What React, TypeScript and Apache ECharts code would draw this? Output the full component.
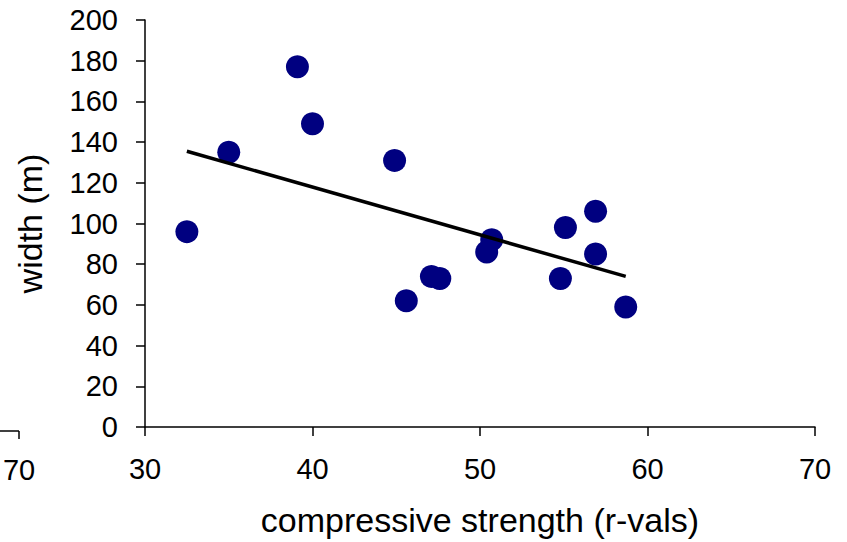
import React, { useEffect, useRef } from "react";
import * as echarts from "echarts";

const xValues = [32.5, 35.0, 39.1, 40.0, 44.9, 45.6, 47.1, 47.6, 50.4, 50.7, 54.8, 55.1, 56.9, 56.9, 58.7];
const yValues = [96, 135, 177, 149, 131, 62, 74, 73, 86, 92, 73, 98, 106, 85, 59];
const trendX = [32.5, 58.7];
const trendY = [135.5, 74];
const xTicks = [30, 40, 50, 60, 70];
const yTicks = [0, 20, 40, 60, 80, 100, 120, 140, 160, 180, 200];

const FONT = "'Liberation Sans', Arial, sans-serif";

export default function App() {
  const ref = useRef<HTMLDivElement>(null);
  useEffect(() => {
    if (!ref.current) return;
    const chart = echarts.init(ref.current, undefined, { renderer: "svg" });
    chart.setOption({
      animation: false,
      backgroundColor: "#ffffff",
      grid: { left: 145, right: 32, top: 20, bottom: 115, containLabel: false },
      xAxis: {
        type: "value",
        min: xTicks[0],
        max: xTicks[xTicks.length - 1],
        interval: 10,
        axisLine: { show: true, lineStyle: { color: "#000", width: 1.5 } },
        axisTick: { show: true, length: 9, lineStyle: { color: "#000", width: 1.5 } },
        splitLine: { show: false },
        axisLabel: { color: "#000", fontSize: 29, fontFamily: FONT, margin: 27 },
        name: "compressive strength (r-vals)",
        nameLocation: "middle",
        nameGap: 76,
        nameTextStyle: { color: "#000", fontSize: 34, fontFamily: FONT },
      },
      yAxis: {
        type: "value",
        min: yTicks[0],
        max: yTicks[yTicks.length - 1],
        interval: 20,
        axisLine: { show: true, lineStyle: { color: "#000", width: 1.5 } },
        axisTick: { show: true, length: 9, lineStyle: { color: "#000", width: 1.5 } },
        splitLine: { show: false },
        axisLabel: { color: "#000", fontSize: 29, fontFamily: FONT, margin: 27 },
        name: "width (m)",
        nameLocation: "middle",
        nameGap: 98,
        nameTextStyle: { color: "#000", fontSize: 34, fontFamily: FONT },
      },
      graphic: [
        { type: "line", shape: { x1: 0, y1: 431, x2: 19, y2: 431 }, style: { stroke: "#000", lineWidth: 1.5 } },
        { type: "line", shape: { x1: 19, y1: 431, x2: 19, y2: 439 }, style: { stroke: "#000", lineWidth: 1.5 } },
        {
          type: "text",
          x: 19,
          y: 470,
          style: { text: "70", fill: "#000", font: `29px ${FONT}`, textAlign: "center", textVerticalAlign: "middle" },
        },
      ],
      series: [
        {
          type: "scatter",
          data: xValues.map((x, i) => [x, yValues[i]]),
          symbol: "circle",
          symbolSize: 23,
          itemStyle: { color: "#000080", opacity: 1 },
          z: 2,
        },
        {
          type: "line",
          data: trendX.map((x, i) => [x, trendY[i]]),
          symbol: "none",
          lineStyle: { color: "#000", width: 3.5 },
          z: 3,
        },
      ],
    });
    return () => chart.dispose();
  }, []);
  return <div ref={ref} style={{ width: 847, height: 542, position: "absolute", left: 0, top: 0 }} />;
}
